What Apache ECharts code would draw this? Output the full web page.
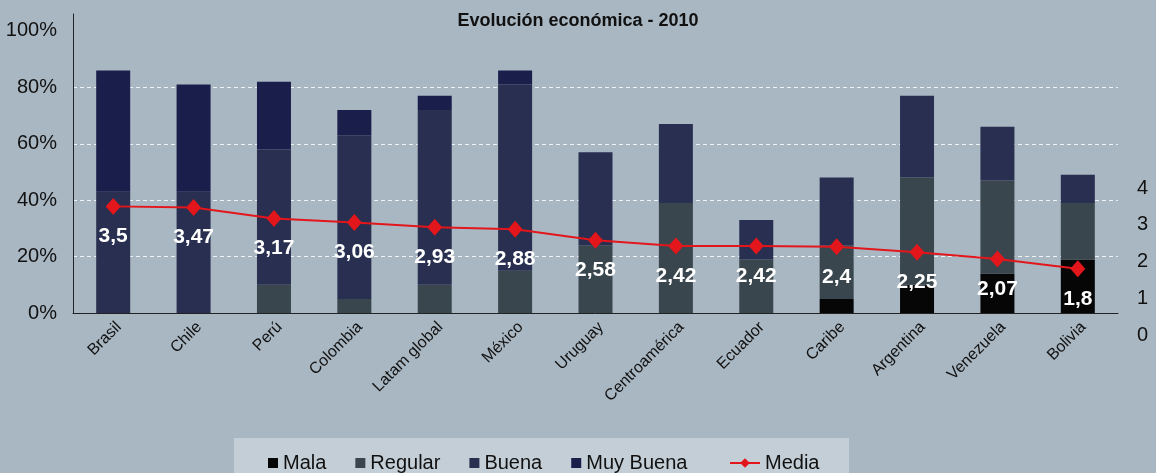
<!DOCTYPE html>
<html>
<head>
<meta charset="utf-8">
<script src="https://cdn.jsdelivr.net/npm/echarts@6/dist/echarts.min.js"></script>
<style>
  html, body { margin: 0; padding: 0; background: #a9b7c2; }
  #chart { width: 1156px; height: 473px; }
</style>
</head>
<body>
<div id="chart"></div>
<script>
// datos (% por categoría y media 1-4)
var paises = ['Brasil', 'Chile', 'Perú', 'Colombia', 'Latam global', 'México', 'Uruguay',
    'Centroamérica', 'Ecuador', 'Caribe', 'Argentina', 'Venezuela', 'Bolivia'];
var mala = [0, 0, 0, 0, 0, 0, 0, 0, 0, 5, 10, 14, 19];
var regular = [0, 0, 10, 5, 10, 15, 24, 39, 19, 19, 38, 33, 20];
var buena = [43, 43, 48, 58, 62, 66, 33, 28, 14, 24, 29, 19, 10];
var muyBuena = [43, 38, 24, 9, 5, 5, 0, 0, 0, 0, 0, 0, 0];
var media = [3.5, 3.47, 3.17, 3.06, 2.93, 2.88, 2.58, 2.42, 2.42, 2.4, 2.25, 2.07, 1.8];

var fuente = '"Liberation Sans", Arial, sans-serif';

var myCharts = echarts.init(document.getElementById('chart'));

function barra(nombre, datos, color) {
    return {
        name: nombre,
        type: 'bar',
        stack: 'total',
        barWidth: 34,
        xAxisIndex: 0,
        yAxisIndex: 0,
        itemStyle: { color: color },
        data: datos
    };
}

var option = {
    backgroundColor: '#a9b7c2',
    animation: false,
    title: {
        text: 'Evolución económica - 2010',
        left: 'center',
        top: 7,
        textStyle: { fontFamily: fuente, fontSize: 18, fontWeight: 'bold', color: '#111' }
    },
    graphic: [{
        type: 'rect',
        left: 234,
        top: 438,
        shape: { width: 615, height: 40 },
        style: { fill: '#c3ced6' },
        z: 0
    }],
    legend: [{
        data: ['Mala', 'Regular', 'Buena', 'Muy Buena'],
        left: 263,
        top: 448,
        itemWidth: 10,
        itemHeight: 10,
        itemGap: 29,
        icon: 'rect',
        textStyle: { fontFamily: fuente, fontSize: 20, color: '#111' }
    }, {
        data: ['Media'],
        left: 724,
        top: 448,
        itemWidth: 30,
        itemHeight: 12,
        textStyle: { fontFamily: fuente, fontSize: 20, color: '#111' }
    }],
    grid: [{
        left: 73, right: 38, top: 14, bottom: 160
    }, {
        left: 73, right: 38, top: 188, bottom: 138
    }],
    xAxis: [{
        type: 'category',
        gridIndex: 0,
        data: paises,
        axisTick: { show: false },
        axisLine: { lineStyle: { color: '#222', width: 1 } },
        axisLabel: {
            interval: 0,
            rotate: 45,
            margin: 6,
            verticalAlign: 'top',
            fontFamily: fuente,
            fontSize: 16,
            color: '#111'
        }
    }, {
        type: 'category',
        gridIndex: 1,
        data: paises,
        show: false
    }],
    yAxis: [{
        type: 'value',
        gridIndex: 0,
        min: 0,
        max: 106,
        interval: 20,
        axisLine: { show: true, lineStyle: { color: '#222' } },
        axisTick: { show: false },
        axisLabel: {
            margin: 16,
            fontFamily: fuente,
            fontSize: 20,
            color: '#111',
            formatter: function (v) {
                return v > 100 ? '' : v + '%';
            }
        },
        splitLine: {
            show: true,
            lineStyle: {
                type: [4, 3],
                width: 1,
                color: ['rgba(0,0,0,0)', '#eef2f5', '#eef2f5', '#eef2f5', '#eef2f5',
                    'rgba(0,0,0,0)', 'rgba(0,0,0,0)']
            }
        }
    }, {
        type: 'value',
        gridIndex: 1,
        position: 'right',
        min: 0,
        max: 4,
        interval: 1,
        axisLine: { show: false },
        axisTick: { show: false },
        splitLine: { show: false },
        axisLabel: {
            margin: 19,
            fontFamily: fuente,
            fontSize: 20,
            color: '#111'
        }
    }],
    series: [
        barra('Mala', mala, '#060606'),
        barra('Regular', regular, '#3a464d'),
        barra('Buena', buena, '#282f50'),
        barra('Muy Buena', muyBuena, '#1a1e4a'),
        {
            name: 'Media',
            type: 'line',
            xAxisIndex: 1,
            yAxisIndex: 1,
            symbol: 'diamond',
            symbolSize: [15, 17],
            z: 5,
            itemStyle: { color: '#e3161c' },
            lineStyle: { color: '#e3161c', width: 2 },
            label: {
                show: true,
                position: 'bottom',
                distance: 11,
                fontFamily: fuente,
                fontSize: 21,
                fontWeight: 'bold',
                color: '#fff',
                formatter: function (p) {
                    return String(p.value).replace('.', ',');
                }
            },
            data: media
        }
    ]
};
myCharts.setOption(option);
</script>
</body>
</html>
